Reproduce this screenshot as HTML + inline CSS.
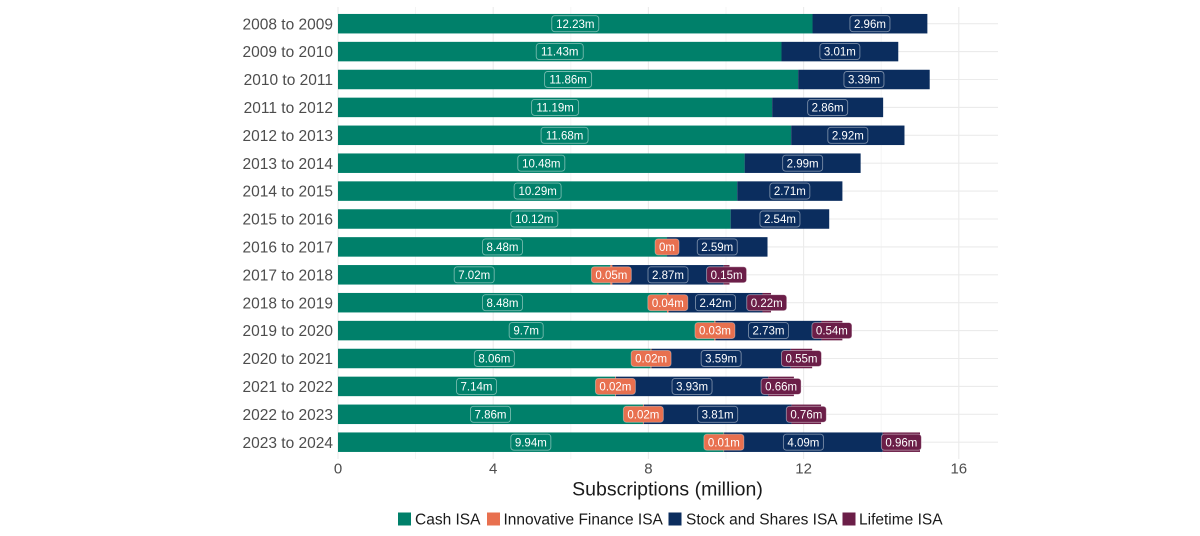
<!DOCTYPE html>
<html>
<head>
<meta charset="utf-8">
<style>
  html,body{margin:0;padding:0;background:#fff;}
  body{width:1200px;height:536px;overflow:hidden;}
  svg{display:block;font-family:"Liberation Sans",Arial,sans-serif;}
</style>
</head>
<body>
<svg width="1200" height="536" viewBox="0 0 1200 536" xmlns="http://www.w3.org/2000/svg">
  <rect width="1200" height="536" fill="#fff"/>
  <!-- minor vertical grid -->
  <g stroke="#f2f2f2" stroke-width="0.8">
    <line x1="415.6" y1="7" x2="415.6" y2="459"/>
    <line x1="570.8" y1="7" x2="570.8" y2="459"/>
    <line x1="726" y1="7" x2="726" y2="459"/>
    <line x1="881.2" y1="7" x2="881.2" y2="459"/>
  </g>
  <!-- major vertical grid -->
  <g stroke="#ebebeb" stroke-width="1.1">
    <line x1="338" y1="7" x2="338" y2="459"/>
    <line x1="493.2" y1="7" x2="493.2" y2="459"/>
    <line x1="648.4" y1="7" x2="648.4" y2="459"/>
    <line x1="803.6" y1="7" x2="803.6" y2="459"/>
    <line x1="958.8" y1="7" x2="958.8" y2="459"/>
  </g>
  <!-- horizontal grid -->
  <g stroke="#ebebeb" stroke-width="1.1">
    <line x1="338" y1="23.7" x2="998" y2="23.7"/>
    <line x1="338" y1="51.6" x2="998" y2="51.6"/>
    <line x1="338" y1="79.5" x2="998" y2="79.5"/>
    <line x1="338" y1="107.4" x2="998" y2="107.4"/>
    <line x1="338" y1="135.3" x2="998" y2="135.3"/>
    <line x1="338" y1="163.2" x2="998" y2="163.2"/>
    <line x1="338" y1="191.1" x2="998" y2="191.1"/>
    <line x1="338" y1="219" x2="998" y2="219"/>
    <line x1="338" y1="246.9" x2="998" y2="246.9"/>
    <line x1="338" y1="274.8" x2="998" y2="274.8"/>
    <line x1="338" y1="302.7" x2="998" y2="302.7"/>
    <line x1="338" y1="330.6" x2="998" y2="330.6"/>
    <line x1="338" y1="358.5" x2="998" y2="358.5"/>
    <line x1="338" y1="386.4" x2="998" y2="386.4"/>
    <line x1="338" y1="414.3" x2="998" y2="414.3"/>
    <line x1="338" y1="442.2" x2="998" y2="442.2"/>
  </g>

  <!-- bars: Cash ISA -->
  <g fill="#00806a">
    <rect x="338" y="13.95" width="474.52" height="19.5"/>
    <rect x="338" y="41.85" width="443.48" height="19.5"/>
    <rect x="338" y="69.75" width="460.17" height="19.5"/>
    <rect x="338" y="97.65" width="434.17" height="19.5"/>
    <rect x="338" y="125.55" width="453.18" height="19.5"/>
    <rect x="338" y="153.45" width="406.62" height="19.5"/>
    <rect x="338" y="181.35" width="399.25" height="19.5"/>
    <rect x="338" y="209.25" width="392.66" height="19.5"/>
    <rect x="338" y="237.15" width="329.02" height="19.5"/>
    <rect x="338" y="265.05" width="272.38" height="19.5"/>
    <rect x="338" y="292.95" width="329.02" height="19.5"/>
    <rect x="338" y="320.85" width="376.36" height="19.5"/>
    <rect x="338" y="348.75" width="312.73" height="19.5"/>
    <rect x="338" y="376.65" width="277.03" height="19.5"/>
    <rect x="338" y="404.55" width="304.97" height="19.5"/>
    <rect x="338" y="432.45" width="385.67" height="19.5"/>
  </g>
  <!-- bars: Innovative Finance ISA -->
  <g fill="#e8704f">
    <rect x="610.38" y="265.05" width="1.94" height="19.5"/>
    <rect x="667.02" y="292.95" width="1.55" height="19.5"/>
    <rect x="714.36" y="320.85" width="1.16" height="19.5"/>
    <rect x="650.73" y="348.75" width="0.78" height="19.5"/>
    <rect x="615.03" y="376.65" width="0.78" height="19.5"/>
    <rect x="642.97" y="404.55" width="0.78" height="19.5"/>
    <rect x="723.67" y="432.45" width="0.39" height="19.5"/>
  </g>
  <!-- bars: Stock and Shares ISA -->
  <g fill="#0b2d5e">
    <rect x="812.52" y="13.95" width="114.85" height="19.5"/>
    <rect x="781.48" y="41.85" width="116.79" height="19.5"/>
    <rect x="798.17" y="69.75" width="131.53" height="19.5"/>
    <rect x="772.17" y="97.65" width="110.97" height="19.5"/>
    <rect x="791.18" y="125.55" width="113.30" height="19.5"/>
    <rect x="744.62" y="153.45" width="116.01" height="19.5"/>
    <rect x="737.25" y="181.35" width="105.15" height="19.5"/>
    <rect x="730.66" y="209.25" width="98.55" height="19.5"/>
    <rect x="667.02" y="237.15" width="100.49" height="19.5"/>
    <rect x="612.32" y="265.05" width="111.36" height="19.5"/>
    <rect x="668.57" y="292.95" width="93.90" height="19.5"/>
    <rect x="715.52" y="320.85" width="105.92" height="19.5"/>
    <rect x="651.51" y="348.75" width="139.29" height="19.5"/>
    <rect x="615.81" y="376.65" width="152.48" height="19.5"/>
    <rect x="643.75" y="404.55" width="147.83" height="19.5"/>
    <rect x="724.06" y="432.45" width="158.69" height="19.5"/>
  </g>
  <!-- bars: Lifetime ISA -->
  <g fill="#6b1e48">
    <rect x="723.68" y="265.05" width="5.82" height="19.5"/>
    <rect x="762.47" y="292.95" width="8.54" height="19.5"/>
    <rect x="821.44" y="320.85" width="20.95" height="19.5"/>
    <rect x="790.80" y="348.75" width="21.34" height="19.5"/>
    <rect x="768.29" y="376.65" width="25.61" height="19.5"/>
    <rect x="791.58" y="404.55" width="29.49" height="19.5"/>
    <rect x="882.75" y="432.45" width="37.25" height="19.5"/>
  </g>

  <!-- labels: Cash -->
  <g stroke="#ffffff" stroke-opacity="0.45" stroke-width="0.9" fill="#00806a">
    <rect x="551.76" y="15.7" width="47" height="16" rx="3"/>
    <rect x="536.24" y="43.6" width="47" height="16" rx="3"/>
    <rect x="544.58" y="71.5" width="47" height="16" rx="3"/>
    <rect x="531.59" y="99.4" width="47" height="16" rx="3"/>
    <rect x="541.09" y="127.3" width="47" height="16" rx="3"/>
    <rect x="517.81" y="155.2" width="47" height="16" rx="3"/>
    <rect x="514.13" y="183.1" width="47" height="16" rx="3"/>
    <rect x="510.83" y="211" width="47" height="16" rx="3"/>
    <rect x="482.51" y="238.9" width="40" height="16" rx="3"/>
    <rect x="454.19" y="266.8" width="40" height="16" rx="3"/>
    <rect x="482.51" y="294.7" width="40" height="16" rx="3"/>
    <rect x="509.18" y="322.6" width="34" height="16" rx="3"/>
    <rect x="474.36" y="350.5" width="40" height="16" rx="3"/>
    <rect x="456.52" y="378.4" width="40" height="16" rx="3"/>
    <rect x="470.48" y="406.3" width="40" height="16" rx="3"/>
    <rect x="510.84" y="434.2" width="40" height="16" rx="3"/>
  </g>
  <!-- labels: Innovative Finance -->
  <g stroke="#ffffff" stroke-opacity="0.35" stroke-width="0.9" fill="#e8704f">
    <rect x="655.02" y="238.9" width="24" height="16" rx="3"/>
    <rect x="591.35" y="266.8" width="40" height="16" rx="3"/>
    <rect x="647.80" y="294.7" width="40" height="16" rx="3"/>
    <rect x="694.94" y="322.6" width="40" height="16" rx="3"/>
    <rect x="631.12" y="350.5" width="40" height="16" rx="3"/>
    <rect x="595.42" y="378.4" width="40" height="16" rx="3"/>
    <rect x="623.36" y="406.3" width="40" height="16" rx="3"/>
    <rect x="703.87" y="434.2" width="40" height="16" rx="3"/>
  </g>
  <!-- labels: Stock and Shares -->
  <g stroke="#ffffff" stroke-opacity="0.45" stroke-width="0.9" fill="#0b2d5e">
    <rect x="849.94" y="15.7" width="40" height="16" rx="3"/>
    <rect x="819.88" y="43.6" width="40" height="16" rx="3"/>
    <rect x="843.94" y="71.5" width="40" height="16" rx="3"/>
    <rect x="807.66" y="99.4" width="40" height="16" rx="3"/>
    <rect x="827.83" y="127.3" width="40" height="16" rx="3"/>
    <rect x="782.63" y="155.2" width="40" height="16" rx="3"/>
    <rect x="769.83" y="183.1" width="40" height="16" rx="3"/>
    <rect x="759.94" y="211" width="40" height="16" rx="3"/>
    <rect x="697.27" y="238.9" width="40" height="16" rx="3"/>
    <rect x="648.00" y="266.8" width="40" height="16" rx="3"/>
    <rect x="695.52" y="294.7" width="40" height="16" rx="3"/>
    <rect x="748.48" y="322.6" width="40" height="16" rx="3"/>
    <rect x="701.16" y="350.5" width="40" height="16" rx="3"/>
    <rect x="672.05" y="378.4" width="40" height="16" rx="3"/>
    <rect x="697.67" y="406.3" width="40" height="16" rx="3"/>
    <rect x="783.41" y="434.2" width="40" height="16" rx="3"/>
  </g>
  <!-- labels: Lifetime -->
  <g stroke="#ffffff" stroke-opacity="0.45" stroke-width="0.9" fill="#6b1e48">
    <rect x="706.59" y="266.8" width="40" height="16" rx="3"/>
    <rect x="746.74" y="294.7" width="40" height="16" rx="3"/>
    <rect x="811.92" y="322.6" width="40" height="16" rx="3"/>
    <rect x="781.47" y="350.5" width="40" height="16" rx="3"/>
    <rect x="761.10" y="378.4" width="40" height="16" rx="3"/>
    <rect x="786.33" y="406.3" width="40" height="16" rx="3"/>
    <rect x="881.38" y="434.2" width="40" height="16" rx="3"/>
  </g>

  <!-- label text -->
  <g fill="#ffffff" font-size="11.5" text-anchor="middle">
    <text x="575.26" y="27.8">12.23m</text>
    <text x="559.74" y="55.7">11.43m</text>
    <text x="568.08" y="83.6">11.86m</text>
    <text x="555.09" y="111.5">11.19m</text>
    <text x="564.59" y="139.4">11.68m</text>
    <text x="541.31" y="167.3">10.48m</text>
    <text x="537.63" y="195.2">10.29m</text>
    <text x="534.33" y="223.1">10.12m</text>
    <text x="502.51" y="251">8.48m</text>
    <text x="474.19" y="278.9">7.02m</text>
    <text x="502.51" y="306.8">8.48m</text>
    <text x="526.18" y="334.7">9.7m</text>
    <text x="494.36" y="362.6">8.06m</text>
    <text x="476.52" y="390.5">7.14m</text>
    <text x="490.48" y="418.4">7.86m</text>
    <text x="530.84" y="446.3">9.94m</text>

    <text x="667.02" y="251">0m</text>
    <text x="611.35" y="278.9">0.05m</text>
    <text x="667.80" y="306.8">0.04m</text>
    <text x="714.94" y="334.7">0.03m</text>
    <text x="651.12" y="362.6">0.02m</text>
    <text x="615.42" y="390.5">0.02m</text>
    <text x="643.36" y="418.4">0.02m</text>
    <text x="723.87" y="446.3">0.01m</text>

    <text x="869.94" y="27.8">2.96m</text>
    <text x="839.88" y="55.7">3.01m</text>
    <text x="863.94" y="83.6">3.39m</text>
    <text x="827.66" y="111.5">2.86m</text>
    <text x="847.83" y="139.4">2.92m</text>
    <text x="802.63" y="167.3">2.99m</text>
    <text x="789.83" y="195.2">2.71m</text>
    <text x="779.94" y="223.1">2.54m</text>
    <text x="717.27" y="251">2.59m</text>
    <text x="668.00" y="278.9">2.87m</text>
    <text x="715.52" y="306.8">2.42m</text>
    <text x="768.48" y="334.7">2.73m</text>
    <text x="721.16" y="362.6">3.59m</text>
    <text x="692.05" y="390.5">3.93m</text>
    <text x="717.67" y="418.4">3.81m</text>
    <text x="803.41" y="446.3">4.09m</text>

    <text x="726.59" y="278.9">0.15m</text>
    <text x="766.74" y="306.8">0.22m</text>
    <text x="831.92" y="334.7">0.54m</text>
    <text x="801.47" y="362.6">0.55m</text>
    <text x="781.10" y="390.5">0.66m</text>
    <text x="806.33" y="418.4">0.76m</text>
    <text x="901.38" y="446.3">0.96m</text>
  </g>

  <!-- y axis labels -->
  <g fill="#4d4d4d" font-size="15.5" text-anchor="end">
    <text x="333" y="29.3">2008 to 2009</text>
    <text x="333" y="57.2">2009 to 2010</text>
    <text x="333" y="85.1">2010 to 2011</text>
    <text x="333" y="113">2011 to 2012</text>
    <text x="333" y="140.9">2012 to 2013</text>
    <text x="333" y="168.8">2013 to 2014</text>
    <text x="333" y="196.7">2014 to 2015</text>
    <text x="333" y="224.6">2015 to 2016</text>
    <text x="333" y="252.5">2016 to 2017</text>
    <text x="333" y="280.4">2017 to 2018</text>
    <text x="333" y="308.3">2018 to 2019</text>
    <text x="333" y="336.2">2019 to 2020</text>
    <text x="333" y="364.1">2020 to 2021</text>
    <text x="333" y="392">2021 to 2022</text>
    <text x="333" y="419.9">2022 to 2023</text>
    <text x="333" y="447.8">2023 to 2024</text>
  </g>

  <!-- x axis labels -->
  <g fill="#4d4d4d" font-size="15" text-anchor="middle">
    <text x="338" y="473.5">0</text>
    <text x="493.2" y="473.5">4</text>
    <text x="648.4" y="473.5">8</text>
    <text x="803.6" y="473.5">12</text>
    <text x="958.8" y="473.5">16</text>
  </g>
  <text x="667.5" y="495.5" font-size="19.5" fill="#1a1a1a" text-anchor="middle">Subscriptions (million)</text>

  <!-- legend -->
  <rect x="398" y="512.5" width="13" height="13" fill="#00806a"/>
  <text x="415" y="524.5" font-size="15.5" fill="#1a1a1a">Cash ISA</text>
  <rect x="487" y="512.5" width="13" height="13" fill="#e8704f"/>
  <text x="503.5" y="524.5" font-size="15.5" fill="#1a1a1a">Innovative Finance ISA</text>
  <rect x="668.5" y="512.5" width="13" height="13" fill="#0b2d5e"/>
  <text x="686" y="524.5" font-size="15.5" fill="#1a1a1a">Stock and Shares ISA</text>
  <rect x="842.5" y="512.5" width="13" height="13" fill="#6b1e48"/>
  <text x="859" y="524.5" font-size="15.5" fill="#1a1a1a">Lifetime ISA</text>
</svg>
</body>
</html>
